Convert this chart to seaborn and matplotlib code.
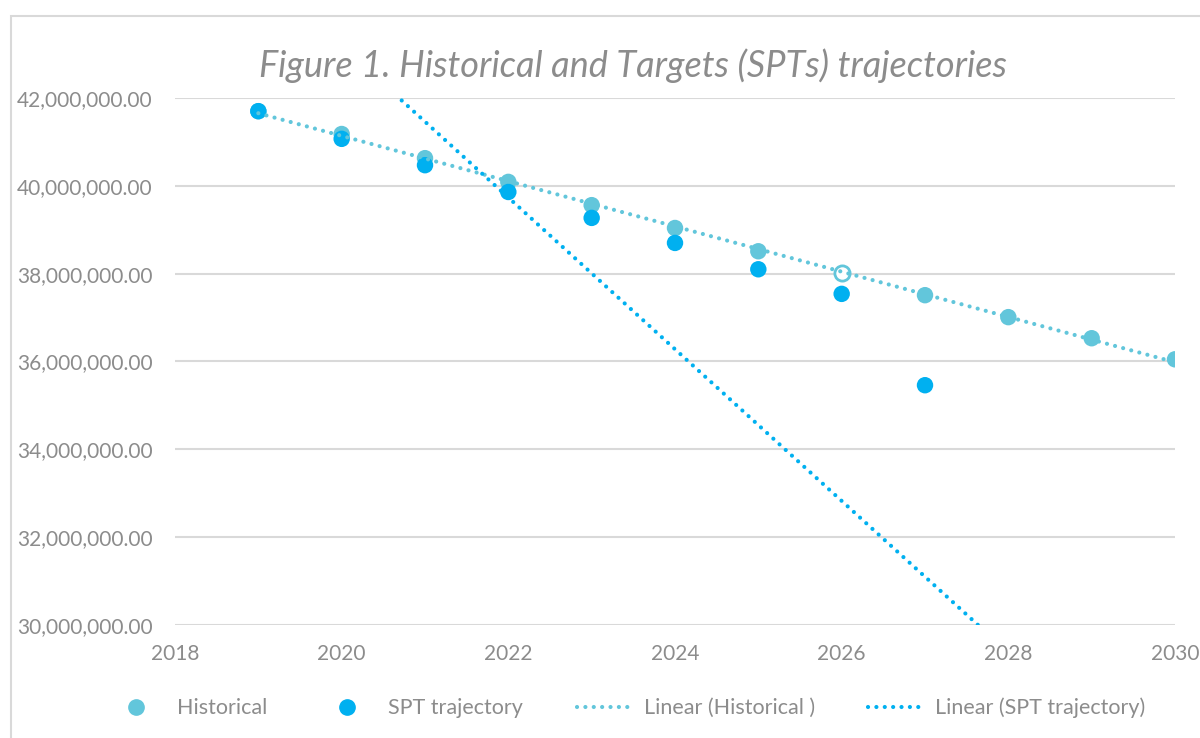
import numpy as np
import pandas as pd
import seaborn as sns
import matplotlib.pyplot as plt
from matplotlib.patches import Rectangle
from matplotlib.ticker import FuncFormatter, MultipleLocator
from matplotlib.lines import Line2D

# values
hist_years = [2019, 2020, 2021, 2022, 2023, 2024, 2025, 2026, 2027, 2028, 2029, 2030]
hist_values = [41.70e6, 41.18e6, 40.63e6, 40.09e6, 39.56e6, 39.04e6, 38.51e6,
               38.01e6, 37.51e6, 37.01e6, 36.53e6, 36.05e6]
hist_hollow = [False, False, False, False, False, False, False,
               True, False, False, False, False]

spt_years = [2019, 2020, 2021, 2022, 2023, 2024, 2025, 2026, 2027]
spt_values = [41.70e6, 41.07e6, 40.47e6, 39.86e6, 39.27e6, 38.70e6, 38.10e6, 37.54e6, 35.46e6]

# trendline of the SPT series as drawn (slope per year, value at 2024)
spt_trend_slope = -1.727e6
spt_trend_at_2024 = 36.28e6

title = "Figure 1. Historical and Targets (SPTs) trajectories"
c_hist = "#62C6DB"
c_spt = "#00B0F0"
c_text = "#8C8C8C"
dots = (0, (0.01, 2.0))

hist = pd.DataFrame({"year": hist_years, "value": hist_values, "hollow": hist_hollow})
spt = pd.DataFrame({"year": spt_years, "value": spt_values})

sns.set_theme(style="white")
plt.rcParams["font.family"] = ["Lato", "DejaVu Sans"]

fig = plt.figure(figsize=(12, 7.38), dpi=100)
ax = fig.add_axes([175 / 1200, 1 - 625 / 738, 1000 / 1200, 527 / 738])

# outer chart border
fig.patches.append(Rectangle((11 / 1200, -0.05), 1.2, 1 - 16 / 738 + 0.05,
                             transform=fig.transFigure, fill=False,
                             edgecolor="#D9D9D9", linewidth=1.5))

# trendlines
hx = np.linspace(2019, 2030, 100)
coef = np.polyfit(hist["year"], hist["value"], 1)
sx = np.linspace(2019, 2030, 100)
sy = spt_trend_at_2024 + spt_trend_slope * (sx - 2024)

filled = hist[~hist["hollow"]]
sns.scatterplot(data=filled, x="year", y="value", color=c_hist, s=140,
                edgecolor="none", ax=ax, zorder=3)
ax.scatter(hist.loc[hist["hollow"], "year"], hist.loc[hist["hollow"], "value"],
           s=120, facecolor="white", edgecolor=c_hist, linewidth=2, zorder=3)
sns.scatterplot(data=spt, x="year", y="value", color=c_spt, s=140,
                edgecolor="none", ax=ax, zorder=4)
ax.plot(hx, np.polyval(coef, hx), color=c_hist, linestyle=dots,
        linewidth=3, dash_capstyle="round", zorder=5)
ax.plot(sx, sy, color=c_spt, linestyle=dots,
        linewidth=3, dash_capstyle="round", zorder=5)

ax.set_xlim(2018, 2030)
ax.set_ylim(30e6, 42e6)
ax.xaxis.set_major_locator(MultipleLocator(2))
ax.yaxis.set_major_locator(MultipleLocator(2e6))
ax.yaxis.set_major_formatter(FuncFormatter(lambda v, p: f"{v:,.2f}"))
ax.grid(axis="y", color="#D9D9D9", linewidth=1.5)
ax.grid(axis="x", visible=False)
for sp in ax.spines.values():
    sp.set_visible(False)
ax.tick_params(axis="both", length=0, colors=c_text, labelsize=15)
ax.tick_params(axis="y", pad=16)
ax.tick_params(axis="x", pad=14)
ax.set_xlabel("")
ax.set_ylabel("")
if ax.get_legend():
    ax.get_legend().remove()

fig.text(633 / 1200, 1 - 66 / 738, title, ha="center", va="center",
         fontsize=26, style="italic", color=c_text)

handles = [
    Line2D([], [], marker="o", linestyle="none", color=c_hist, markersize=11),
    Line2D([], [], marker="o", linestyle="none", color=c_spt, markersize=11),
    Line2D([], [], color=c_hist, linestyle=dots, linewidth=3, dash_capstyle="round"),
    Line2D([], [], color=c_spt, linestyle=dots, linewidth=3, dash_capstyle="round"),
]
labels = ["Historical", "SPT trajectory", "Linear (Historical )", "Linear (SPT trajectory)"]
fig.legend(handles, labels, loc="center", bbox_to_anchor=(628 / 1200, 1 - 708 / 738),
           ncol=4, frameon=False, fontsize=15.5, labelcolor=c_text,
           handlelength=2.4, columnspacing=2.5, handletextpad=0.7)

fig.savefig("out.png", dpi=100)
